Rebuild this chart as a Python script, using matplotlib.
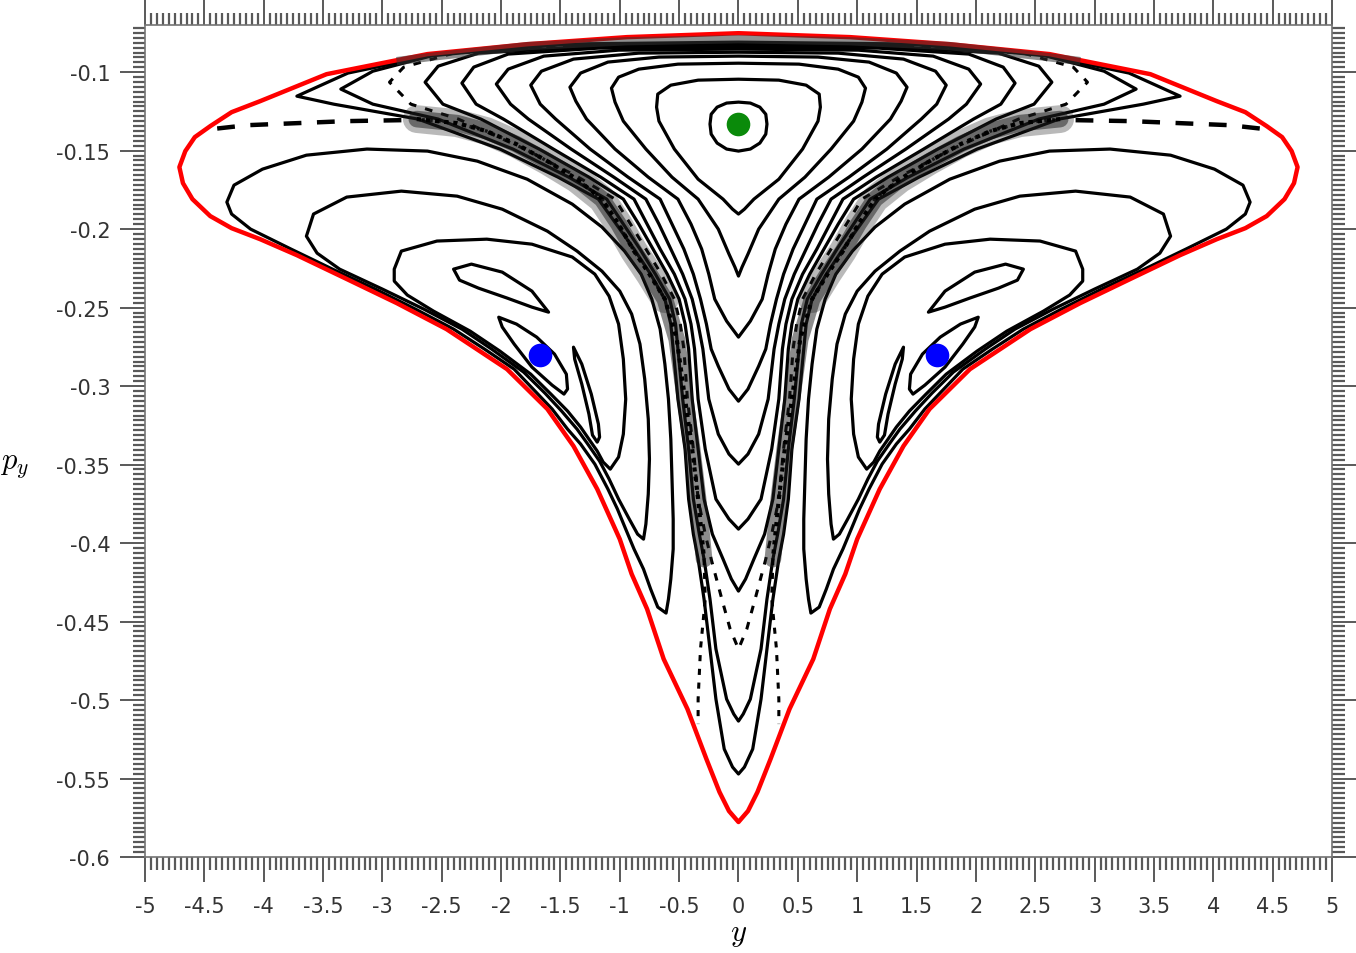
import numpy as np
import matplotlib
matplotlib.use("Agg")
from matplotlib import pyplot as plt
from matplotlib.patches import Polygon
from matplotlib.ticker import FixedLocator, MultipleLocator

plt.rcParams['mathtext.fontset'] = 'cm'
plt.rcParams['axes.unicode_minus'] = False

# Poincare section (y, p_y); the picture is mirror symmetric in y,
# so only the y >= 0 half of every curve is kept here.

# energy boundary, top centre -> bottom centre
bound_y = [0, 0.94, 1.78, 2.62, 3.47, 4.03, 4.27, 4.45, 4.58, 4.66, 4.71, 4.68, 4.60, 4.45, 4.27, 4.03,
           3.72, 3.30, 2.88, 2.46, 1.95, 1.61, 1.39, 1.19, 1.00, 0.90, 0.77, 0.63, 0.43, 0.27, 0.16,
           0.08, 0]
bound_py = [-0.0752, -0.0777, -0.0822, -0.0885, -0.1013, -0.1185, -0.1255, -0.1344, -0.1414, -0.1503,
            -0.1605, -0.1707, -0.1809, -0.1917, -0.1994, -0.2064, -0.2166, -0.2318, -0.2471, -0.2637,
            -0.2892, -0.3146, -0.3382, -0.3656, -0.3975, -0.4197, -0.4420, -0.4739, -0.5057, -0.5376,
            -0.5586, -0.5707, -0.5777]

# central family (around the green point), top centre -> bottom centre
a1_y = [0, 0.10, 0.18, 0.23, 0.24, 0.23, 0.18, 0.10, 0]
a1_py = [-0.1191, -0.1197, -0.1223, -0.1268, -0.1331, -0.1395, -0.1452, -0.1490, -0.1503]
a2_y = [0, 0.34, 0.57, 0.68, 0.69, 0.67, 0.54, 0.34, 0.13, 0.05, 0]
a2_py = [-0.1045, -0.1051, -0.1083, -0.1140, -0.1223, -0.1312, -0.1490, -0.1682, -0.1809, -0.1873, -0.1904]
a3_y = [0, 0.51, 0.84, 1.01, 1.07, 1.04, 0.97, 0.78, 0.56, 0.34, 0.17, 0.08, 0.03, 0]
a3_py = [-0.0943, -0.0949, -0.0981, -0.1032, -0.1102, -0.1191, -0.1312, -0.1490, -0.1669, -0.1809,
         -0.2000, -0.2159, -0.2242, -0.2299]
a4_y = [0, 0.67, 1.10, 1.33, 1.42, 1.37, 1.28, 1.04, 0.76, 0.51, 0.40, 0.31, 0.25, 0.20, 0.10, 0]
a4_py = [-0.0898, -0.0904, -0.0936, -0.1006, -0.1096, -0.1185, -0.1299, -0.1490, -0.1669, -0.1809,
         -0.1968, -0.2127, -0.2287, -0.2446, -0.2586, -0.2688]
a5_y = [0, 0.84, 1.39, 1.66, 1.75, 1.67, 1.54, 1.25, 0.93, 0.66, 0.56, 0.46, 0.38, 0.32, 0.27, 0.23,
        0.17, 0.08, 0]
a5_py = [-0.0873, -0.0879, -0.0917, -0.0994, -0.1083, -0.1204, -0.1299, -0.1490, -0.1669, -0.1809,
         -0.1968, -0.2127, -0.2287, -0.2446, -0.2605, -0.2764, -0.2873, -0.3019, -0.3096]
a6_y = [0, 1.01, 1.64, 1.94, 2.04, 1.92, 1.77, 1.41, 1.05, 0.78, 0.67, 0.57, 0.47, 0.39, 0.34, 0.30,
        0.25, 0.17, 0.08, 0]
a6_py = [-0.0853, -0.0860, -0.0898, -0.0981, -0.1076, -0.1204, -0.1299, -0.1490, -0.1669, -0.1809,
         -0.1968, -0.2127, -0.2287, -0.2446, -0.2605, -0.2764, -0.3083, -0.3306, -0.3433, -0.3497]
a7_y = [0, 1.18, 1.94, 2.23, 2.33, 2.21, 1.98, 1.56, 1.16, 0.88, 0.77, 0.66, 0.54, 0.45, 0.40, 0.37,
        0.34, 0.28, 0.19, 0.08, 0]
a7_py = [-0.0841, -0.0847, -0.0885, -0.0968, -0.1070, -0.1204, -0.1299, -0.1490, -0.1669, -0.1809,
         -0.1968, -0.2127, -0.2287, -0.2446, -0.2605, -0.2764, -0.3083, -0.3401, -0.3720, -0.3847, -0.3911]
a8_y = [0, 1.35, 2.19, 2.53, 2.64, 2.49, 2.17, 1.68, 1.26, 0.97, 0.84, 0.72, 0.60, 0.50, 0.45, 0.42,
        0.39, 0.34, 0.29, 0.22, 0.13, 0.06, 0]
a8_py = [-0.0828, -0.0841, -0.0879, -0.0962, -0.1064, -0.1204, -0.1299, -0.1490, -0.1669, -0.1809,
         -0.1968, -0.2127, -0.2287, -0.2446, -0.2605, -0.2764, -0.3083, -0.3401, -0.3720, -0.3943,
         -0.4102, -0.4229, -0.4306]
a9_y = [0, 1.43, 2.40, 2.82, 2.94, 2.76, 2.36, 1.80, 1.35, 1.04, 0.91, 0.78, 0.65, 0.54, 0.49, 0.46,
        0.43, 0.38, 0.34, 0.28, 0.23, 0.14, 0.07, 0]
a9_py = [-0.0822, -0.0834, -0.0879, -0.0968, -0.1064, -0.1204, -0.1299, -0.1490, -0.1669, -0.1809,
         -0.1968, -0.2127, -0.2287, -0.2446, -0.2605, -0.2764, -0.3083, -0.3401, -0.3720, -0.3943,
         -0.4102, -0.4357, -0.4548, -0.4675]
a10_y = [0, 1.52, 2.53, 3.08, 3.35, 3.08, 2.53, 1.90, 1.43, 1.11, 0.97, 0.83, 0.70, 0.58, 0.53, 0.51,
         0.47, 0.42, 0.38, 0.33, 0.29, 0.24, 0.19, 0.10, 0.04, 0]
a10_py = [-0.0815, -0.0828, -0.0885, -0.0994, -0.1108, -0.1204, -0.1299, -0.1490, -0.1669, -0.1809,
          -0.1968, -0.2127, -0.2287, -0.2446, -0.2605, -0.2764, -0.3083, -0.3401, -0.3720, -0.3943,
          -0.4102, -0.4357, -0.4675, -0.4994, -0.5089, -0.5134]
a11_y = [0, 1.60, 2.61, 3.29, 3.72, 3.41, 2.70, 2.01, 1.52, 1.18, 1.03, 0.88, 0.74, 0.62, 0.57, 0.55,
         0.51, 0.45, 0.42, 0.38, 0.34, 0.29, 0.24, 0.19, 0.12, 0.05, 0]
a11_py = [-0.0809, -0.0822, -0.0898, -0.1006, -0.1153, -0.1204, -0.1299, -0.1490, -0.1669, -0.1809,
          -0.1968, -0.2127, -0.2287, -0.2446, -0.2605, -0.2764, -0.3083, -0.3401, -0.3720, -0.3943,
          -0.4102, -0.4357, -0.4675, -0.4994, -0.5312, -0.5427, -0.5471]

# lobe family (right lobe, closed loops; left lobe is the mirror image)
l1_y = [4.31, 4.25, 4.01, 3.64, 3.13, 2.62, 2.20, 1.78, 1.40, 1.15, 0.96, 0.82, 0.73, 0.66, 0.62, 0.59,
        0.57, 0.56, 0.55, 0.55, 0.57, 0.59, 0.61, 0.68, 0.74, 0.80, 0.88, 0.95, 1.02, 1.10, 1.21, 1.33,
        1.44, 1.57, 1.73, 1.89, 2.14, 2.40, 2.72, 3.06, 3.42, 3.77, 4.11, 4.27, 4.31]
l1_py = [-0.1828, -0.1720, -0.1618, -0.1529, -0.1490, -0.1503, -0.1567, -0.1682, -0.1841, -0.1987,
         -0.2140, -0.2287, -0.2446, -0.2637, -0.2860, -0.3083, -0.3338, -0.3592, -0.3847, -0.4038,
         -0.4229, -0.4357, -0.4446, -0.4408, -0.4293, -0.4166, -0.4038, -0.3911, -0.3783, -0.3656,
         -0.3497, -0.3369, -0.3274, -0.3146, -0.3019, -0.2892, -0.2764, -0.2637, -0.2510, -0.2382,
         -0.2255, -0.2127, -0.2000, -0.1904, -0.1828]
l2_y = [3.64, 3.58, 3.30, 2.84, 2.37, 1.99, 1.61, 1.36, 1.15, 1.00, 0.90, 0.83, 0.79, 0.76, 0.75, 0.76,
        0.78, 0.80, 0.85, 0.92, 1.01, 1.09, 1.17, 1.27, 1.36, 1.49, 1.63, 1.81, 2.08, 2.33, 2.65, 3.00,
        3.36, 3.55, 3.64]
l2_py = [-0.2045, -0.1904, -0.1796, -0.1758, -0.1790, -0.1873, -0.2013, -0.2140, -0.2268, -0.2395,
         -0.2541, -0.2732, -0.2955, -0.3210, -0.3465, -0.3688, -0.3879, -0.3975, -0.3943, -0.3847,
         -0.3720, -0.3592, -0.3478, -0.3369, -0.3274, -0.3159, -0.3045, -0.2911, -0.2764, -0.2637,
         -0.2510, -0.2382, -0.2255, -0.2153, -0.2045]
l3_y = [2.90, 2.84, 2.54, 2.12, 1.74, 1.40, 1.21, 1.09, 1.01, 0.97, 0.95, 0.97, 1.01, 1.08, 1.14, 1.19,
        1.26, 1.33, 1.44, 1.58, 1.75, 2.01, 2.26, 2.57, 2.79, 2.90, 2.90]
l3_py = [-0.2255, -0.2140, -0.2076, -0.2064, -0.2096, -0.2178, -0.2287, -0.2427, -0.2605, -0.2828,
         -0.3083, -0.3306, -0.3452, -0.3529, -0.3484, -0.3414, -0.3338, -0.3261, -0.3159, -0.3051,
         -0.2924, -0.2777, -0.2650, -0.2522, -0.2420, -0.2331, -0.2255]
# islands round the blue point
c1_y = [2.02, 1.87, 1.70, 1.55, 1.45, 1.44, 1.47, 1.57, 1.74, 1.89, 1.99, 2.02]
c1_py = [-0.2561, -0.2605, -0.2688, -0.2796, -0.2924, -0.3019, -0.3051, -0.2994, -0.2879, -0.2732,
         -0.2624, -0.2561]
c2_y = [1.60, 1.74, 1.99, 2.25, 2.40, 2.35, 2.19, 1.95, 1.74, 1.60]
c2_py = [-0.2529, -0.2395, -0.2274, -0.2223, -0.2255, -0.2325, -0.2376, -0.2439, -0.2497, -0.2529]
c3_y = [1.39, 1.32, 1.24, 1.18, 1.17, 1.19, 1.23, 1.26, 1.32, 1.38, 1.39]
c3_py = [-0.2752, -0.2860, -0.3051, -0.3242, -0.3325, -0.3357, -0.3312, -0.3178, -0.2987, -0.2828, -0.2752]

# chaotic layer: centre line of the speckled band, its sparse tail,
# the dashed outer part and the layer under the top of the boundary
band_y = [2.71, 2.37, 2.12, 1.87, 1.61, 1.36, 1.15, 1.01, 0.88, 0.75, 0.62, 0.52, 0.45, 0.39, 0.34, 0.29]
band_py = [-0.1299, -0.1325, -0.1376, -0.1459, -0.1567, -0.1682, -0.1809, -0.1968, -0.2140, -0.2287,
           -0.2446, -0.2701, -0.3083, -0.3401, -0.3720, -0.4102]
tail_y = [0.29, 0.28, 0.32, 0.34, 0.34]
tail_py = [-0.4102, -0.4357, -0.4675, -0.4994, -0.5153]
dash_y = [2.84, 3.30, 3.72, 4.14, 4.52]
dash_py = [-0.1306, -0.1312, -0.1325, -0.1338, -0.1370]
top_y = [0, 0.94, 1.78, 2.54, 2.88]
top_py = [-0.0790, -0.0803, -0.0834, -0.0898, -0.0930]

# fixed points
green_pt = (0.0, -0.133)
blue_pts_y = [-1.67, 1.67]
blue_pts_py = [-0.28, -0.28]

xtick_vals = [-5, -4.5, -4, -3.5, -3, -2.5, -2, -1.5, -1, -0.5, 0, 0.5, 1, 1.5, 2, 2.5, 3, 3.5, 4, 4.5, 5]
xtick_labels = ['-5', '-4.5', '-4', '-3.5', '-3', '-2.5', '-2', '-1.5', '-1', '-0.5', '0', '0.5', '1',
                '1.5', '2', '2.5', '3', '3.5', '4', '4.5', '5']
ytick_vals = [-0.6, -0.55, -0.5, -0.45, -0.4, -0.35, -0.3, -0.25, -0.2, -0.15, -0.1]
ytick_labels = ['-0.6', '-0.55', '-0.5', '-0.45', '-0.4', '-0.35', '-0.3', '-0.25', '-0.2', '-0.15', '-0.1']


def sym_loop(yr, pr):
    # right half (centre -> centre) plus its mirror, as an (N, 2) outline
    yr = np.asarray(yr, dtype=float)
    pr = np.asarray(pr, dtype=float)
    return np.column_stack([np.concatenate([yr, -yr[:-1][::-1]]),
                            np.concatenate([pr, pr[:-1][::-1]])])


def loop(ax, xy, **kw):
    ax.add_patch(Polygon(xy, closed=True, fill=False, joinstyle='round', **kw))


fig = plt.figure(figsize=(13.56, 9.54), dpi=100)
ax = fig.add_axes([0.1069, 0.1006, 0.8754, 0.8721])

# chaotic layer first so the regular curves sit on top of it
for s in (1, -1):
    by = s * np.array(band_y)
    ax.plot(by[:11], band_py[:11], color='0.1', lw=20, alpha=0.3, solid_capstyle='round')
    ax.plot(by, band_py, color='0.1', lw=12, alpha=0.5, solid_capstyle='round')
    ax.plot(by, band_py, color='k', lw=3, ls=(0, (1, 1.2)))
    ax.plot(by[:11], band_py[:11], color='k', lw=2.4, ls=(0.8, (0.8, 1.6)), alpha=0.8)
    ax.plot(s * np.array(tail_y), tail_py, color='k', lw=2.2, ls=(0, (2, 2.5)))
    ax.plot(s * np.array(dash_y), dash_py, color='k', lw=3.2, ls=(0, (4, 3.5)))
# one stroke across the top so the two halves do not overlap at y = 0
ty = np.concatenate([-np.array(top_y[:0:-1]), top_y])
tp = np.concatenate([top_py[:0:-1], top_py])
ax.plot(ty, tp, color='0.2', lw=6, alpha=0.55, solid_capstyle='butt')

central = [(a1_y, a1_py), (a2_y, a2_py), (a3_y, a3_py), (a4_y, a4_py), (a5_y, a5_py),
           (a6_y, a6_py), (a7_y, a7_py), (a8_y, a8_py), (a10_y, a10_py), (a11_y, a11_py)]
for yr, pr in central:
    loop(ax, sym_loop(yr, pr), ec='k', lw=2.3)
loop(ax, sym_loop(a9_y, a9_py), ec='k', lw=2.2, ls=(0, (2.5, 3)))

for yr, pr in [(l1_y, l1_py), (l2_y, l2_py), (l3_y, l3_py), (c1_y, c1_py), (c2_y, c2_py), (c3_y, c3_py)]:
    for s in (1, -1):
        loop(ax, np.column_stack([s * np.array(yr), pr]), ec='k', lw=2.3)

loop(ax, sym_loop(bound_y, bound_py), ec='#ff0000', lw=3.2)

ax.plot(*green_pt, 'o', color='#0a8a0a', ms=17, mec='none')
ax.plot(blue_pts_y, blue_pts_py, 'o', color='#0000ff', ls='none', ms=17, mec='none')

ax.set_xlim(-5, 5)
ax.set_ylim(-0.6, -0.07)
ax.xaxis.set_major_locator(FixedLocator(xtick_vals))
ax.yaxis.set_major_locator(FixedLocator(ytick_vals))
ax.set_xticklabels(xtick_labels)
ax.set_yticklabels(ytick_labels)
ax.xaxis.set_minor_locator(MultipleLocator(0.05))
ax.yaxis.set_minor_locator(MultipleLocator(0.05 / 16))
ax.tick_params(which='both', direction='out', top=True, right=True, color='0.35')
ax.tick_params(which='major', length=18, width=1.4, labelsize=15, labelcolor='0.2')
ax.tick_params(axis='y', which='major', pad=7)
ax.tick_params(axis='x', which='major', pad=10)
ax.tick_params(which='minor', length=9, width=1.6)
for sp in ax.spines.values():
    sp.set_color('0.45')
    sp.set_linewidth(1.2)

ax.set_xlabel('$y$', fontsize=22, labelpad=2)
ax.set_ylabel('$p_y$', fontsize=22, rotation=0, ha='center', va='center')
ax.yaxis.set_label_coords(-0.11, 0.472)

fig.savefig('out.png', dpi=100)
